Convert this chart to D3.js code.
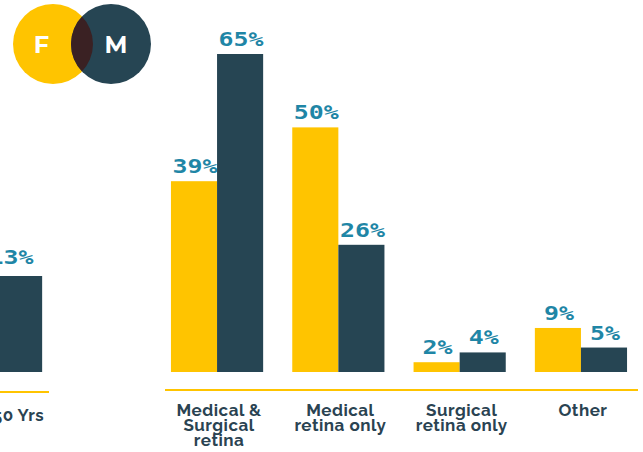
<!DOCTYPE html>
<html>
<head>
<meta charset="utf-8">
<script src="https://cdn.jsdelivr.net/npm/d3@7"></script>
<style>
  html, body { margin: 0; padding: 0; background: #fff; }
  svg { display: block; }
</style>
</head>
<body>
<svg id="chart" width="643" height="452"></svg>
<script>
// ---- data ----
const categories = ["Medical &\nSurgical\nretina", "Medical\nretina only", "Surgical\nretina only", "Other"];
const femaleValues = [39, 50, 2, 9];
const maleValues = [65, 26, 4, 5];
const leftCategories = ["Over 50 Yrs"];
const leftMaleValues = [13];
const seriesKeys = ["F", "M"];

// ---- styles ----
const YELLOW = "#FFC400";
const DARK = "#264553";
const OVERLAP = "#3a2123";
const LABEL = "#1f86a6";
const TEXT = "#2a4352";

const svg = d3.select("#chart");

// ---- legend (venn) ----
const legend = svg.append("g");
const defs = svg.append("defs");
defs.append("clipPath").attr("id", "fclip")
  .append("circle").attr("cx", 53).attr("cy", 44).attr("r", 40);
legend.append("circle").attr("cx", 53).attr("cy", 44).attr("r", 40).attr("fill", YELLOW);
legend.append("circle").attr("cx", 111).attr("cy", 44).attr("r", 40).attr("fill", DARK);
legend.append("circle").attr("cx", 111).attr("cy", 44).attr("r", 40).attr("fill", OVERLAP)
  .attr("clip-path", "url(#fclip)");
legend.append("text").attr("x", 41.5).attr("y", 53).attr("text-anchor", "middle")
  .attr("fill", "#fff").attr("font-family", "Montserrat, 'Open Sans', sans-serif")
  .attr("font-weight", 700).attr("font-size", 24).text(seriesKeys[0]);
legend.append("text").attr("x", 116).attr("y", 53).attr("text-anchor", "middle")
  .attr("fill", "#fff").attr("font-family", "Montserrat, 'Open Sans', sans-serif")
  .attr("font-weight", 700).attr("font-size", 24).text(seriesKeys[1]);

// ---- scales ----
const baseY = 372;
const y = d3.scaleLinear().domain([0, 65]).range([baseY, 54]);
const yLeft = d3.scaleLinear().domain([0, 13]).range([baseY, 276]);

const x = d3.scaleBand().domain(categories).range([156.4, 641.6])
  .paddingInner(0.24).paddingOuter(0.12);
const xSub = d3.scaleBand().domain(seriesKeys).range([0, x.bandwidth()]);

const xLeft = d3.scaleBand().domain(leftCategories).range([-64.6, 56.7])
  .paddingInner(0.24).paddingOuter(0.12);
const xSubLeft = d3.scaleBand().domain(seriesKeys).range([0, xLeft.bandwidth()]);

const colors = { F: YELLOW, M: DARK };

function valueLabel(g, xPos, yPos, txt) {
  g.append("text")
    .attr("x", xPos).attr("y", yPos)
    .attr("text-anchor", "middle")
    .attr("fill", LABEL)
    .attr("font-family", "'DejaVu Sans Mono', monospace")
    .attr("font-weight", 700)
    .attr("font-size", 19.5)
    .attr("textLength", txt.length * 15)
    .attr("lengthAdjust", "spacingAndGlyphs")
    .text(txt);
}

const catFont = sel => sel
  .attr("fill", TEXT)
  .attr("font-family", "Raleway, Lato, sans-serif")
  .attr("font-weight", 700)
  .attr("font-size", 17)
  .attr("letter-spacing", 0.5);

// ---- right panel ----
const right = svg.append("g");
const rows = categories.map((c, i) => ({ cat: c, F: femaleValues[i], M: maleValues[i] }));
rows.forEach(r => {
  seriesKeys.forEach(k => {
    const x0 = x(r.cat) + xSub(k);
    right.append("rect")
      .attr("x", x0).attr("y", y(r[k]))
      .attr("width", xSub.bandwidth()).attr("height", baseY - y(r[k]))
      .attr("fill", colors[k]);
    valueLabel(right, x0 + xSub.bandwidth() / 2 + 1, y(r[k]) - 8, r[k] + "%");
  });
});

right.append("line")
  .attr("x1", 165).attr("x2", 638).attr("y1", 390).attr("y2", 390)
  .attr("stroke", YELLOW).attr("stroke-width", 2);

const xAxis = d3.axisBottom(x).tickSize(0).tickFormat("");
const axG = right.append("g").attr("transform", "translate(0,390)").call(xAxis);
axG.select(".domain").remove();
axG.selectAll(".tick").each(function(d) {
  const t = d3.select(this).append("text")
    .attr("text-anchor", "middle")
    .call(catFont);
  d.split("\n").forEach((line, i) => {
    t.append("tspan").attr("x", 2).attr("y", 26 + i * 15).text(line);
  });
});

// ---- left (cropped) panel ----
const left = svg.append("g");
leftCategories.forEach((c, i) => {
  const k = "M";
  const x0 = xLeft(c) + xSubLeft(k);
  const v = leftMaleValues[i];
  left.append("rect")
    .attr("x", x0).attr("y", yLeft(v))
    .attr("width", xSubLeft.bandwidth()).attr("height", baseY - yLeft(v))
    .attr("fill", DARK);
  valueLabel(left, x0 + xSubLeft.bandwidth() / 2 - 8, yLeft(v) - 12, v + "%");
});
left.append("line")
  .attr("x1", 0).attr("x2", 49).attr("y1", 392).attr("y2", 392)
  .attr("stroke", YELLOW).attr("stroke-width", 2);
const lAx = left.append("g").attr("transform", "translate(0,392)")
  .call(d3.axisBottom(xLeft).tickSize(0).tickFormat(""));
lAx.select(".domain").remove();
lAx.selectAll(".tick").append("text")
  .attr("text-anchor", "end")
  .attr("x", xLeft.bandwidth() / 2 + 2)
  .attr("y", 29)
  .call(catFont)
  .text(d => d);
</script>
</body>
</html>
